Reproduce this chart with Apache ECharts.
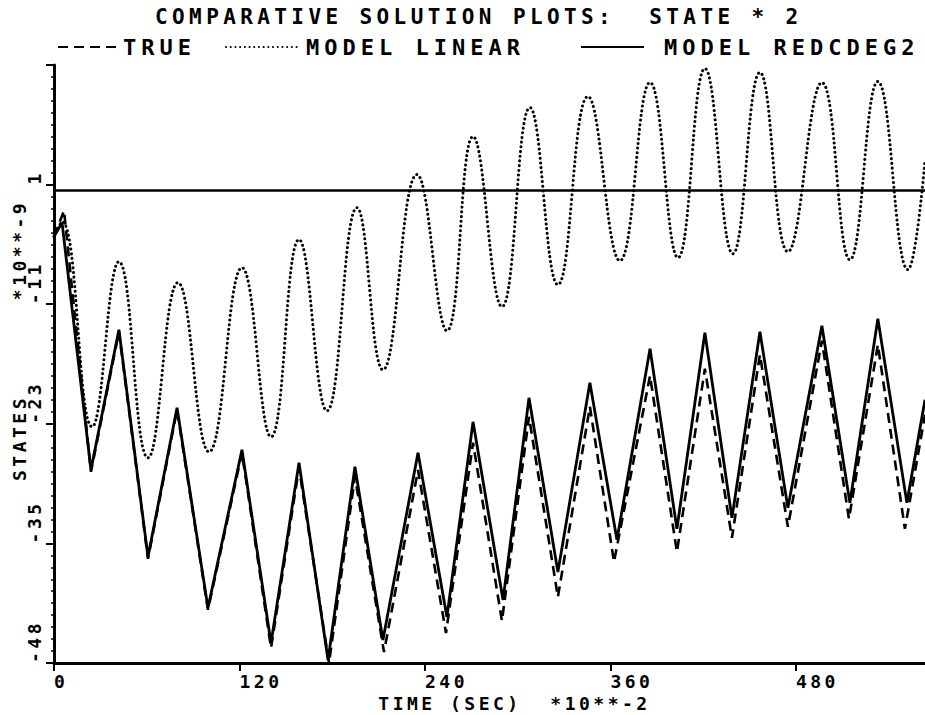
<!DOCTYPE html>
<html>
<head>
<meta charset="utf-8">
<script src="https://cdn.jsdelivr.net/npm/echarts/dist/echarts.min.js"></script>
<style>
  html, body { margin: 0; padding: 0; background: #ffffff; }
  #chart { width: 925px; height: 715px; }
  #chart text { white-space: pre; }
</style>
</head>
<body>
<div id="chart"></div>
<script>
// Time samples (units of 10**-2 s) and state values (units of 10**-9)
const trueT = [0, 6.5, 23.9, 42.0, 60.8, 79.6, 99.6, 121.6, 140.4, 158.5, 177.9, 194.7, 213.5, 235.5, 253.6, 271.1, 289.8, 307.3, 326.0, 346.7, 362.3, 385.6, 403.0, 421.1, 438.6, 456.7, 474.8, 496.8, 514.3, 533.0, 550.5, 563.5];
const trueV = [-4.29, -1.64, -28.18, -13.95, -37.02, -21.87, -42.20, -26.25, -46.07, -27.77, -47.60, -28.69, -46.48, -28.00, -44.55, -25.23, -43.33, -22.59, -40.89, -21.57, -37.33, -18.42, -36.31, -17.71, -34.89, -16.28, -33.77, -14.86, -32.96, -15.27, -33.97, -22.38];

const linearT = [0, 5.2, 24.6, 42.0, 60.8, 80.2, 100.3, 121.6, 140.4, 158.5, 176.6, 196.0, 212.8, 234.8, 254.2, 271.1, 289.8, 307.9, 326.0, 345.4, 366.1, 385.6, 403.7, 421.1, 439.2, 456.7, 474.8, 496.8, 514.9, 533.0, 552.4, 563.5];
const linearV = [-4.29, -2.76, -23.60, -6.83, -26.76, -8.96, -26.15, -7.44, -24.62, -4.59, -21.98, -1.34, -17.81, 2.02, -13.84, 5.88, -11.40, 8.83, -9.17, 9.95, -6.73, 11.37, -6.42, 12.79, -6.02, 12.39, -5.81, 11.37, -6.63, 11.47, -7.64, 3.44];

const redT = [0, 5.2, 23.9, 42.0, 60.8, 79.6, 99.6, 121.6, 140.4, 158.5, 177.3, 194.7, 212.8, 235.5, 254.2, 271.1, 290.5, 307.3, 326.0, 346.7, 364.2, 385.6, 403.0, 421.1, 438.6, 456.7, 474.8, 496.8, 514.9, 533.0, 551.8, 563.5];
const redV = [-4.29, -2.86, -27.97, -13.74, -36.82, -21.67, -42.00, -25.94, -45.56, -27.26, -47.29, -27.67, -45.26, -26.25, -42.92, -23.10, -41.19, -20.66, -38.35, -19.13, -35.09, -15.67, -33.97, -14.05, -32.86, -13.95, -31.84, -13.34, -31.33, -12.62, -31.33, -20.86];

// Axis scales
const xTicks = [0, 120, 240, 360, 480];
const xMin = 0, xMax = 563.5, xStep = 120;
const yTickLabels = ['-48', '-35', '-23', '-11', '1'];
const yMin = -47.6, yStep = 12.15, yMax = yMin + 5 * yStep;
const refLevel = 0.4;   // horizontal reference line

const seriesNames = ['TRUE', 'MODEL LINEAR', 'MODEL REDCDEG2'];
const titleText = 'COMPARATIVE SOLUTION PLOTS:  STATE * 2';
const xName = 'TIME (SEC)  *10**-2';
const yNameParts = ['STATES', '*10**-9'];

const FONT = '"DejaVu Sans Mono", "Liberation Mono", monospace';
const INK = '#000000';

const zip = (t, v) => t.map((x, i) => [x, v[i]]);

const chart = echarts.init(document.getElementById('chart'), null, { renderer: 'svg' });

const titleTextStyle = { fontFamily: FONT, fontSize: 21, fontWeight: 'bold', color: INK };
const bigText = { fontFamily: FONT, fontSize: 22, fontWeight: 'bold', color: INK };
const smallText = { fontFamily: FONT, fontSize: 18, fontWeight: 'bold', color: INK };

// extra letter spacing per font size (plotter lettering)
const pitchBySize = { 21: 4.4, 22: 5, 18: 3.5 };

// legend keys show only the line pattern, no marker
const legendBase = {
  top: 36, itemHeight: 14, selectedMode: false, padding: 0,
  itemStyle: { opacity: 0, borderWidth: 0 },
  lineStyle: { opacity: 1 }
};

const option = {
  animation: false,
  backgroundColor: '#ffffff',
  title: {
    text: titleText,
    left: 155,
    top: 6,
    padding: 0,
    textStyle: titleTextStyle
  },
  legend: [
    Object.assign({ data: [seriesNames[0]], left: 57, itemWidth: 60, textStyle: bigText }, legendBase),
    Object.assign({ data: [seriesNames[1]], left: 225, itemWidth: 75, textStyle: bigText }, legendBase),
    Object.assign({ data: [seriesNames[2]], left: 580, itemWidth: 63,
      textStyle: Object.assign({ padding: [0, 0, 0, 15] }, bigText) }, legendBase)
  ],
  grid: { left: 54, right: 0, top: 65, bottom: 52, outerBoundsMode: 'none' },
  xAxis: {
    type: 'value',
    min: xMin, max: xMax, interval: xStep,
    name: xName,
    nameLocation: 'middle',
    nameGap: 31,
    nameTextStyle: Object.assign({ padding: [0, 0, 0, 50] }, smallText),
    axisLine: { onZero: false, lineStyle: { color: INK, width: 3 } },
    axisTick: { show: true, inside: false, length: 8, lineStyle: { color: INK, width: 2 } },
    axisLabel: Object.assign({ margin: 9, align: 'left', showMaxLabel: false,
      formatter: v => (xTicks.indexOf(Math.round(v)) >= 0 ? String(Math.round(v)) : '') }, smallText),
    splitLine: { show: false }
  },
  yAxis: {
    type: 'value',
    min: yMin, max: yMax, interval: yStep,
    axisLine: { onZero: false, lineStyle: { color: INK, width: 3 } },
    axisTick: { show: true, inside: false, length: 8, lineStyle: { color: INK, width: 2 } },
    minorTick: { show: true, splitNumber: 10, length: 3, lineStyle: { color: INK, width: 1.5 } },
    axisLabel: Object.assign({
      rotate: 90, align: 'left', verticalAlign: 'bottom', margin: 11, showMaxLabel: false,
      formatter: v => {
        const k = Math.round((v - yMin) / yStep);
        return yTickLabels[k] !== undefined ? yTickLabels[k] : '';
      }
    }, smallText),
    splitLine: { show: false }
  },
  graphic: [
    { type: 'text', x: 19, y: 438, rotation: Math.PI / 2,
      style: { text: yNameParts[0], font: 'bold 18px ' + FONT, fill: INK, textAlign: 'center', textVerticalAlign: 'middle' } },
    { type: 'text', x: 19, y: 250, rotation: Math.PI / 2,
      style: { text: yNameParts[1], font: 'bold 18px ' + FONT, fill: INK, textAlign: 'center', textVerticalAlign: 'middle' } }
  ],
  series: [
    {
      name: seriesNames[0], type: 'line', data: zip(trueT, trueV),
      symbol: 'none', showSymbol: false, z: 2,
      lineStyle: { color: INK, width: 2.6, type: [10, 6] },
      itemStyle: { color: INK }
    },
    {
      name: seriesNames[1], type: 'line', data: zip(linearT, linearV),
      symbol: 'none', showSymbol: false, smooth: 0.45, z: 3,
      lineStyle: { color: INK, width: 3, type: [0.1, 4.6], cap: 'round' },
      itemStyle: { color: INK }
    },
    {
      name: seriesNames[2], type: 'line', data: zip(redT, redV),
      symbol: 'none', showSymbol: false, z: 4,
      lineStyle: { color: INK, width: 2.8 },
      itemStyle: { color: INK },
      markLine: {
        silent: true, symbol: 'none', label: { show: false },
        lineStyle: { color: INK, width: 2.5, type: 'solid' },
        data: [{ yAxis: refLevel }]
      }
    }
  ]
};

chart.setOption(option);

// Plotter-style lettering: wide, even character pitch
function spaceLetters() {
  document.querySelectorAll('#chart svg text').forEach(el => {
    const fs = Math.round(parseFloat(getComputedStyle(el).fontSize) || 0);
    const ls = pitchBySize[fs] !== undefined ? pitchBySize[fs] : 3.5;
    el.style.letterSpacing = ls + 'px';
    el.style.whiteSpace = 'pre';
  });
}
spaceLetters();
chart.on('finished', spaceLetters);
</script>
</body>
</html>
